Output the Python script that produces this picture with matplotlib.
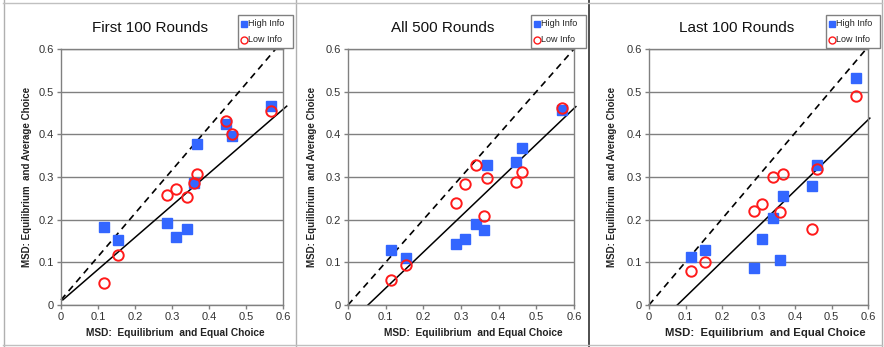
import matplotlib
matplotlib.use("Agg")
import matplotlib.pyplot as plt
from matplotlib.lines import Line2D
from matplotlib.patches import Rectangle

plt.rcParams['font.family'] = ['Liberation Sans', 'DejaVu Sans']

titles = ["First 100 Rounds", "All 500 Rounds", "Last 100 Rounds"]
x_equal = [0.115, 0.154, 0.287, 0.310, 0.341, 0.360, 0.368, 0.447, 0.461, 0.567]

high_first = [0.183, 0.153, 0.193, 0.160, 0.178, 0.285, 0.377, 0.424, 0.395, 0.467]
low_first = [0.051, 0.117, 0.258, 0.271, 0.254, 0.285, 0.308, 0.432, 0.401, 0.455]

high_all = [0.130, 0.110, 0.143, 0.154, 0.190, 0.175, 0.327, 0.336, 0.369, 0.458]
low_all = [0.058, 0.093, 0.240, 0.283, 0.327, 0.209, 0.297, 0.289, 0.311, 0.461]

high_last = [0.112, 0.129, 0.086, 0.154, 0.204, 0.105, 0.256, 0.278, 0.327, 0.531]
low_last = [0.080, 0.100, 0.221, 0.237, 0.299, 0.219, 0.307, 0.179, 0.319, 0.491]

# reference lines: (x0, y0, x1, y1)
dashed_lines = [(0.0, 0.012, 0.59, 0.61), (0.0, 0.0, 0.605, 0.605), (0.0, 0.0, 0.605, 0.61)]
solid_lines = [(0.005, 0.012, 0.61, 0.466), (0.053, 0.0, 0.605, 0.465), (0.0775, 0.0, 0.605, 0.438)]

highs = [high_first, high_all, high_last]
lows = [low_first, low_all, low_last]

ticks = [0, 0.1, 0.2, 0.3, 0.4, 0.5, 0.6]
tick_labels = ["0", "0.1", "0.2", "0.3", "0.4", "0.5", "0.6"]

W, H = 884, 347
fig = plt.figure(figsize=(W / 100, H / 100), dpi=100)

axes_px = [(61, 283), (348, 574), (649, 868)]
top_px, bot_px = 49, 305
legend_px = [(238, 293), (531, 586), (826, 880)]
title_x = [150, 443, 737]
ylabel_x = [27, 312, 612]
xlabel_x = [175, 473, 765]

gray = "#808080"
blue = "#3366FF"
red = "#FF1A1A"

for i in range(3):
    l, r = axes_px[i]
    ax = fig.add_axes([l / W, (H - bot_px) / H, (r - l) / W, (bot_px - top_px) / H])
    ax.set_xlim(0, 0.6)
    ax.set_ylim(0, 0.6)
    for s in ax.spines.values():
        s.set_color(gray)
        s.set_linewidth(1.0)
    ax.set_xticks(ticks)
    ax.set_xticklabels(tick_labels)
    ax.set_yticks(ticks)
    ax.set_yticklabels(tick_labels)
    ax.tick_params(axis='both', direction='out', length=3, color=gray, width=1,
                   labelsize=8, labelcolor="#333333", pad=2)
    ax.grid(axis='y', color=gray, linewidth=1.0)
    ax.set_axisbelow(True)

    d = dashed_lines[i]
    ax.plot([d[0], d[2]], [d[1], d[3]], color='black', linestyle=(0, (4, 3)), linewidth=1.2,
            clip_on=False, zorder=2)
    s = solid_lines[i]
    ax.plot([s[0], s[2]], [s[1], s[3]], color='black', linewidth=1.1, clip_on=False, zorder=2)

    ax.plot(x_equal, highs[i], linestyle='none', marker='s', markersize=7.5,
            markerfacecolor=blue, markeredgecolor=blue, zorder=3)
    ax.plot(x_equal, lows[i], linestyle='none', marker='o', markersize=7.5,
            markerfacecolor='none', markeredgecolor=red, markeredgewidth=1.4, zorder=4)

    fig.text(title_x[i] / W, 1 - 28 / H, titles[i], ha='center', va='center', fontsize=11,
             color="#111111")
    fig.text(ylabel_x[i] / W, 1 - (top_px + bot_px) / 2 / H,
             "MSD: Equilibrium  and Average Choice", rotation=90, ha='center', va='center',
             fontsize=7, fontweight='bold', color="#222222")
    fig.text(xlabel_x[i] / W, 1 - 333 / H, "MSD:  Equilibrium  and Equal Choice",
             ha='center', va='center', fontsize=7.3 if i < 2 else 8.2, fontweight='bold',
             color="#222222")

    # legend box
    ll, lr = legend_px[i]
    lt, lb = 15, 48
    fig.add_artist(Rectangle((ll / W, 1 - lb / H), (lr - ll) / W, (lb - lt) / H,
                             transform=fig.transFigure, facecolor='white',
                             edgecolor=gray, linewidth=1.0, zorder=5))
    fig.add_artist(Line2D([(ll + 6) / W], [1 - 23.5 / H], marker='s', markersize=4.5,
                          markerfacecolor=blue, markeredgecolor=blue, linestyle='none',
                          transform=fig.transFigure, zorder=6))
    fig.add_artist(Line2D([(ll + 6) / W], [1 - 40 / H], marker='o', markersize=5,
                          markerfacecolor='none', markeredgecolor=red, markeredgewidth=1,
                          linestyle='none', transform=fig.transFigure, zorder=6))
    fig.text((ll + 10) / W, 1 - 23.5 / H, "High Info", ha='left', va='center', fontsize=6.5,
             color="#222222", zorder=6)
    fig.text((ll + 10) / W, 1 - 40 / H, "Low Info", ha='left', va='center', fontsize=6.5,
             color="#222222", zorder=6)

# panel borders
def vline(x, color, lw):
    fig.add_artist(Line2D([x / W, x / W], [0, 1], color=color, linewidth=lw,
                          transform=fig.transFigure))

def hline(y, x0, x1, color, lw):
    fig.add_artist(Line2D([x0 / W, x1 / W], [1 - y / H, 1 - y / H], color=color, linewidth=lw,
                          transform=fig.transFigure))

vline(3.5, "#b0b0b0", 1.0)
vline(296, "#b0b0b0", 1.0)
vline(589, "#303030", 1.2)
vline(882, "#b0b0b0", 1.0)
hline(3, 3, 882, "#c0c0c0", 1.0)
hline(345, 3, 882, "#c0c0c0", 1.0)

fig.savefig("out.png", dpi=100)
